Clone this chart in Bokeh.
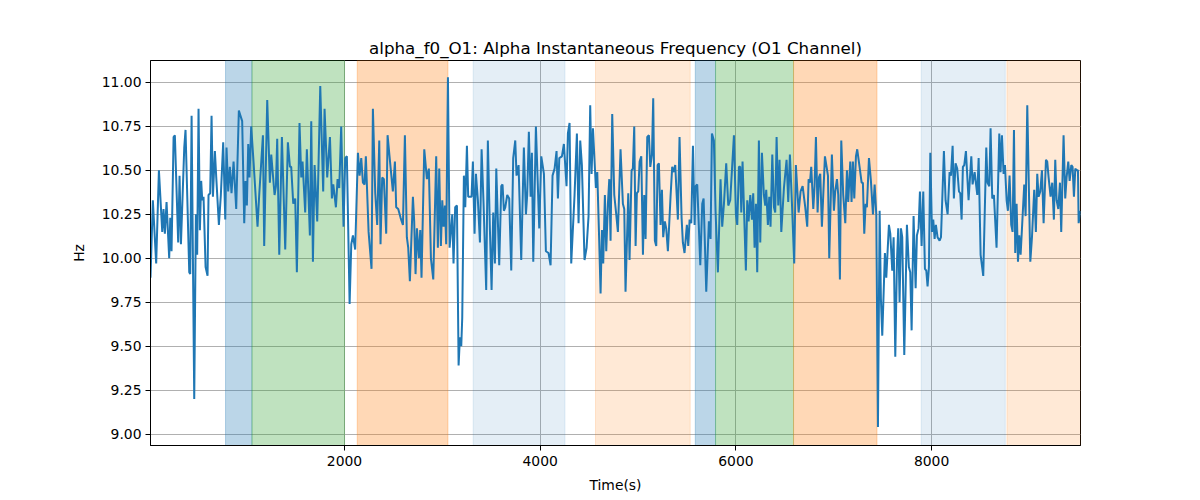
from bokeh.plotting import figure
from bokeh.models import BoxAnnotation, FixedTicker, NumeralTickFormatter, Range1d
from bokeh.embed import file_html
from bokeh.resources import INLINE

# time (s) and alpha instantaneous frequency (Hz) in chunks
t1 = [17, 41, 75, 103, 137, 150, 164, 181, 208, 219, 232, 253, 266, 300, 314, 328, 362, 375, 413, 423,
      437, 464, 481, 494, 508, 522, 535, 546, 559, 580, 600, 610, 627, 641, 655, 675, 689, 716, 736, 760,
      781, 794, 811, 828, 845, 866, 893, 920, 954, 975, 988, 1002, 1016, 1029, 1046, 1070, 1111, 1128, 1166, 1179]
f1 = [9.89, 10.33, 9.97, 10.50, 10.15, 10.28, 10.14, 10.32, 10.00, 10.23, 10.04, 10.69, 10.70, 10.09, 10.47, 10.08, 10.63, 10.73, 9.92, 9.91,
      10.81, 9.20, 10.25, 10.02, 10.85, 10.16, 10.44, 10.33, 10.35, 9.95, 9.90, 10.36, 10.37, 10.81, 10.35, 10.61, 10.46, 10.19, 10.36, 10.66,
      10.22, 10.63, 10.38, 10.52, 10.37, 10.55, 10.28, 10.84, 10.78, 10.20, 10.44, 10.30, 10.65, 10.46, 10.75, 10.55, 10.18, 10.36, 10.70, 10.07]

t2 = [1210, 1237, 1251, 1285, 1299, 1312, 1333, 1360, 1394, 1421, 1442, 1455, 1476, 1496, 1513, 1540, 1558, 1571, 1598, 1615,
      1646, 1660, 1677, 1694, 1721, 1735, 1752, 1782, 1796, 1823, 1851, 1871, 1885, 1912, 1929, 1946, 1966, 1990, 2007, 2024,
      2052, 2069, 2086, 2109, 2137, 2154, 2171, 2188, 2205, 2218, 2246, 2276, 2290, 2314, 2334, 2355, 2368]
f2 = [10.90, 10.43, 10.59, 10.36, 10.41, 10.68, 10.02, 10.69, 10.05, 10.66, 10.52, 10.52, 10.31, 10.34, 9.92, 10.77, 10.46, 10.55, 10.26, 10.62,
      10.13, 10.78, 9.98, 10.53, 10.21, 10.55, 10.98, 10.38, 10.85, 10.46, 10.69, 10.34, 10.42, 10.29, 10.45, 10.40, 10.75, 10.18, 10.57, 10.58,
      9.74, 10.08, 10.13, 10.05, 10.60, 10.47, 10.57, 10.43, 10.42, 10.58, 10.15, 9.94, 10.85, 10.37, 10.19, 10.67, 10.08]

t3 = [2385, 2402, 2426, 2440, 2460, 2494, 2515, 2528, 2549, 2573, 2597, 2617, 2637, 2651, 2668, 2699, 2712, 2726, 2740, 2760,
      2774, 2787, 2815, 2842, 2862, 2883, 2907, 2937, 2954, 2968, 2985, 2999, 3012, 3026, 3039, 3057, 3074, 3101, 3114, 3131,
      3149, 3166, 3179, 3193, 3203, 3220, 3234, 3251, 3264, 3285, 3298, 3312, 3329, 3343, 3363, 3384, 3401, 3421, 3448, 3465,
      3486, 3503, 3520, 3537, 3551]
f3 = [10.46, 10.45, 10.14, 10.70, 10.58, 10.38, 10.55, 10.29, 10.28, 10.23, 10.19, 10.70, 10.12, 10.06, 9.87, 10.35, 10.21, 9.91, 10.17, 10.00,
      10.16, 9.89, 10.62, 10.45, 10.51, 10.00, 9.88, 10.58, 10.06, 10.51, 10.07, 10.33, 10.18, 10.30, 10.08, 11.03, 10.06, 10.25, 9.97, 10.29,
      10.30, 9.39, 9.55, 9.50, 9.66, 10.47, 10.29, 10.64, 10.35, 10.35, 10.35, 10.55, 10.14, 10.48, 10.33, 10.09, 10.62, 10.31, 9.82, 10.67,
      10.16, 9.82, 10.26, 9.97, 10.51]

t4 = [3581, 3602, 3615, 3629, 3643, 3663, 3683, 3704, 3724, 3745, 3758, 3779, 3806, 3833, 3854, 3867, 3884, 3902, 3915, 3929,
      3956, 3990, 4011, 4038, 4058, 4085, 4106, 4126, 4147, 4167, 4181, 4195, 4222, 4242, 4269, 4283, 4300, 4317, 4351, 4375,
      4392, 4409, 4426, 4453, 4474, 4494, 4511, 4525, 4539, 4569, 4583, 4603, 4617, 4631, 4644, 4661, 4675, 4692, 4706, 4719,
      4736, 4757]
f4 = [9.96, 10.41, 10.42, 10.27, 10.29, 10.36, 10.34, 9.93, 10.57, 10.67, 10.47, 10.53, 9.99, 10.63, 10.25, 10.36, 10.72, 10.35, 10.60, 9.98,
      10.75, 10.17, 10.58, 10.48, 10.04, 10.03, 9.96, 10.47, 10.51, 10.61, 10.34, 10.57, 10.58, 10.65, 10.41, 10.71, 10.77, 9.97, 10.36, 10.71,
      10.20, 10.67, 10.53, 9.99, 10.06, 10.24, 10.87, 10.48, 10.74, 10.40, 10.49, 10.10, 9.80, 10.16, 9.97, 10.36, 10.04, 10.31, 10.45, 10.10,
      10.82, 10.36]

t5 = [4777, 4794, 4821, 4845, 4859, 4872, 4900, 4913, 4934, 4947, 4961, 4975, 4988, 5002, 5016, 5033, 5050, 5063, 5077, 5094,
      5111, 5125, 5142, 5155, 5172, 5186, 5200, 5213, 5230, 5244, 5257, 5274, 5288, 5305, 5332, 5349, 5363, 5380, 5407, 5424,
      5445, 5458, 5475, 5499, 5513, 5527, 5544, 5561, 5578, 5588, 5605, 5636, 5656, 5670, 5697, 5724, 5741, 5755, 5775, 5792,
      5816, 5843, 5860, 5878, 5901, 5922, 5942]
f5 = [10.25, 10.15, 10.62, 10.31, 10.28, 9.81, 10.37, 9.99, 10.50, 10.51, 10.75, 10.07, 10.37, 10.38, 10.55, 10.58, 10.02, 10.36, 10.11, 10.69,
      10.70, 10.52, 10.59, 10.91, 10.10, 10.07, 10.53, 10.54, 10.19, 10.39, 10.12, 10.21, 10.17, 10.04, 10.35, 10.52, 10.49, 10.53, 10.22, 10.69,
      10.23, 10.09, 10.03, 10.19, 10.07, 10.22, 10.20, 10.64, 10.19, 10.41, 10.42, 9.96, 10.31, 10.34, 9.81, 10.21, 10.11, 10.71, 10.67, 10.27,
      9.92, 10.45, 10.18, 10.31, 10.54, 10.30, 10.33]

t6 = [5980, 6000, 6014, 6031, 6044, 6055, 6068, 6102, 6116, 6130, 6147, 6164, 6177, 6191, 6205, 6218, 6235, 6249, 6266, 6286,
      6300, 6310, 6327, 6341, 6354, 6372, 6389, 6402, 6416, 6433, 6446, 6464, 6491, 6518, 6535, 6552, 6573, 6596, 6613, 6641,
      6661, 6682, 6709, 6729, 6743, 6757, 6770, 6791, 6804, 6818, 6835, 6849, 6862, 6879, 6910, 6927, 6941, 6954, 6981, 7002,
      7015, 7033, 7046, 7063, 7077, 7097, 7118, 7135, 7148]
f6 = [10.70, 10.25, 10.19, 10.52, 10.52, 10.26, 10.55, 9.93, 10.33, 10.21, 10.36, 10.22, 10.37, 10.06, 10.31, 9.92, 10.67, 10.09, 10.60, 10.36,
      10.30, 10.39, 10.19, 10.35, 10.18, 10.59, 10.29, 10.26, 10.69, 10.30, 10.56, 10.15, 10.40, 10.56, 10.32, 10.59, 10.31, 9.97, 10.53, 10.26,
      10.38, 10.41, 10.29, 10.18, 10.45, 10.43, 10.52, 10.28, 10.41, 10.69, 10.26, 10.46, 10.48, 10.18, 10.58, 10.52, 10.47, 10.00, 10.59, 10.27,
      10.38, 10.45, 10.36, 9.88, 10.67, 10.36, 10.20, 10.50, 10.32]

t7 = [7169, 7182, 7196, 7210, 7227, 7240, 7264, 7285, 7298, 7312, 7326, 7339, 7360, 7380, 7401, 7418, 7435, 7452, 7469, 7482,
      7496, 7523, 7537, 7564, 7578, 7598, 7612, 7629, 7646, 7659, 7673, 7687, 7700, 7721, 7748, 7768, 7782, 7796, 7816, 7837,
      7850, 7867, 7881, 7898, 7915, 7932, 7946, 7959, 7973, 7987, 8004, 8017, 8031, 8044, 8061, 8082, 8096, 8126, 8143, 8164,
      8184, 8198, 8215, 8228, 8245, 8262, 8280, 8293, 8307, 8320, 8334]
f7 = [10.55, 10.32, 10.55, 10.34, 10.58, 10.62, 10.52, 10.43, 10.43, 10.14, 10.31, 10.29, 10.57, 10.44, 10.25, 10.42, 10.25, 9.04, 10.27, 9.77,
      9.56, 10.03, 9.89, 10.19, 10.14, 9.93, 10.12, 9.44, 9.98, 10.17, 9.75, 10.17, 10.12, 9.45, 10.19, 9.95, 9.92, 9.59, 10.24, 9.83,
      10.13, 10.17, 10.38, 10.07, 10.38, 9.94, 9.93, 9.84, 9.95, 10.60, 10.15, 10.22, 10.11, 10.19, 10.12, 10.10, 10.12, 10.61, 10.33, 10.25,
      10.49, 10.47, 10.64, 10.34, 10.54, 10.51, 10.38, 10.37, 10.22, 10.52, 10.53]

t8 = [8351, 8378, 8406, 8419, 8440, 8467, 8481, 8501, 8528, 8559, 8572, 8590, 8603, 8620, 8637, 8664, 8692, 8705, 8719, 8736,
      8750, 8767, 8780, 8797, 8814, 8828, 8842, 8855, 8869, 8883, 8896, 8910, 8923, 8947, 8961, 8978, 9009, 9026, 9049, 9066,
      9080, 9094, 9111, 9128, 9145, 9169, 9182, 9196, 9216, 9233, 9250, 9264, 9278, 9295, 9312, 9325, 9349, 9366, 9380, 9397,
      9411, 9428, 9441, 9455, 9469, 9482, 9496, 9503, 9522]
f8 = [10.61, 10.33, 10.58, 10.42, 10.49, 10.36, 10.57, 10.02, 9.90, 10.63, 10.43, 10.41, 10.74, 10.34, 10.36, 10.06, 10.71, 10.49, 10.70, 10.48,
      10.53, 10.33, 10.27, 10.47, 10.19, 10.15, 10.73, 10.03, 10.31, 9.98, 10.13, 10.02, 10.16, 10.42, 10.24, 10.87, 9.98, 10.12, 10.39, 10.15,
      10.48, 10.35, 10.38, 10.50, 10.20, 10.56, 10.55, 10.46, 10.35, 10.43, 10.22, 10.56, 10.33, 10.28, 10.43, 10.15, 10.70, 10.34, 10.46, 10.55,
      10.44, 10.53, 10.52, 10.35, 10.51, 10.50, 10.50, 10.20, 10.27]

time_s = t1 + t2 + t3 + t4 + t5 + t6 + t7 + t8
freq_hz = f1 + f2 + f3 + f4 + f5 + f6 + f7 + f8

# shaded stages
span_start = [784, 1054, 2130, 3315, 4565, 5585, 5792, 6589, 7894, 8770]
span_end = [1054, 2000, 3057, 4253, 5533, 5792, 6589, 7442, 8753, 9522]
span_color = ["#1f77b4", "#2ca02c", "#ff7f0e", "#1f77b4", "#ff7f0e",
              "#1f77b4", "#2ca02c", "#ff7f0e", "#1f77b4", "#ff7f0e"]
span_alpha = [0.3, 0.3, 0.3, 0.12, 0.17, 0.3, 0.3, 0.3, 0.12, 0.17]

x_ticks = [2000, 4000, 6000, 8000]
y_ticks = [9.0, 9.25, 9.5, 9.75, 10.0, 10.25, 10.5, 10.75, 11.0]

p = figure(width=1200, height=500, output_backend="svg", toolbar_location=None,
           title="alpha_f0_O1: Alpha Instantaneous Frequency (O1 Channel)",
           x_range=Range1d(17, 9522), y_range=Range1d(8.935, 11.125),
           x_axis_label="Time(s)", y_axis_label="Hz",
           min_border_left=150, min_border_right=120, min_border_top=60, min_border_bottom=55)

for s, e, c, a in zip(span_start, span_end, span_color, span_alpha):
    p.add_layout(BoxAnnotation(left=s, right=e, fill_color=c, fill_alpha=a,
                               line_color=c, line_alpha=a, line_width=1, level="underlay"))

p.line(time_s, freq_hz, line_color="#1f77b4", line_width=2)

p.title.align = "center"
p.title.text_font = "DejaVu Sans"
p.title.text_font_size = "16.7px"
p.title.text_font_style = "normal"
p.title.text_color = "black"
p.title.standoff = 6

p.xaxis.ticker = FixedTicker(ticks=x_ticks)
p.yaxis.ticker = FixedTicker(ticks=y_ticks)
p.yaxis.formatter = NumeralTickFormatter(format="0.00")
p.axis.minor_tick_line_color = None
p.axis.major_tick_in = 0
p.axis.major_tick_out = 5
p.axis.major_tick_line_color = "black"
p.axis.axis_line_color = "black"
p.axis.major_label_text_font = "DejaVu Sans"
p.axis.major_label_text_font_size = "13.9px"
p.axis.major_label_text_color = "black"
p.axis.axis_label_text_font = "DejaVu Sans"
p.axis.axis_label_text_font_size = "13.9px"
p.axis.axis_label_text_font_style = "normal"
p.axis.axis_label_text_color = "black"
p.xaxis.axis_label_standoff = 8
p.yaxis.axis_label_standoff = 12
p.yaxis.major_label_standoff = 4

p.grid.grid_line_color = "#b0b0b0"
p.grid.grid_line_width = 1
p.outline_line_color = "black"
p.outline_line_width = 1
p.background_fill_color = "white"

open("out.html", "w").write(file_html(p, INLINE))
